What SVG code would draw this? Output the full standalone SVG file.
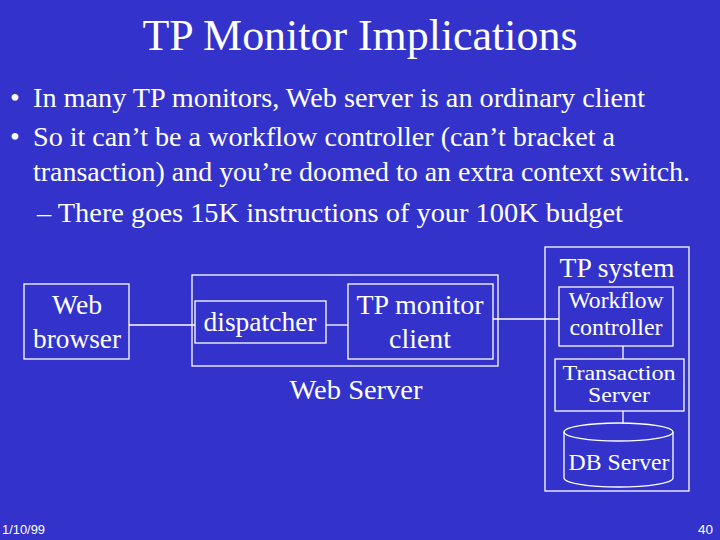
<svg xmlns="http://www.w3.org/2000/svg" width="720" height="540" viewBox="0 0 720 540">
<style>
text{font-family:"Liberation Serif","Times New Roman",serif;fill:#fff}
.box{fill:none;stroke:#fff;stroke-width:1.3}
.ln{stroke:#fff;stroke-width:1.3;fill:none}
.t24{font-size:28px;text-anchor:middle}
.t20{font-size:23px;text-anchor:middle}
.t19{font-size:21px;text-anchor:middle}
.b{font-size:28px}
.f{font-family:"Liberation Sans",sans-serif;font-size:13px}
</style>
<rect width="720" height="540" fill="#3333CC"/>
<text x="360" y="50" font-size="44" text-anchor="middle" textLength="435" lengthAdjust="spacingAndGlyphs">TP Monitor Implications</text>
<text class="b" x="10" y="107">•</text>
<text class="b" x="33" y="107" textLength="612" lengthAdjust="spacingAndGlyphs">In many TP monitors, Web server is an ordinary client</text>
<text class="b" x="10" y="146">•</text>
<text class="b" x="33" y="146" textLength="582" lengthAdjust="spacingAndGlyphs">So it can’t be a workflow controller (can’t bracket a</text>
<text class="b" x="33" y="181" textLength="657" lengthAdjust="spacingAndGlyphs">transaction) and you’re doomed to an extra context switch.</text>
<text class="b" x="37" y="222" textLength="586" lengthAdjust="spacingAndGlyphs">– There goes 15K instructions of your 100K budget</text>
<g id="connectors">
<line class="ln" x1="129" y1="325" x2="195" y2="325"/>
<line class="ln" x1="326" y1="325" x2="348" y2="325"/>
<line class="ln" x1="493" y1="319" x2="559" y2="319"/>
<line class="ln" x1="623" y1="346" x2="623" y2="359"/>
<line class="ln" x1="623" y1="411" x2="623" y2="423"/>
</g>
<g id="web-browser">
<rect class="box" x="24" y="284" width="105" height="75"/>
<text class="t24" x="77" y="314" textLength="50" lengthAdjust="spacingAndGlyphs">Web</text>
<text class="t24" x="77" y="348" textLength="88" lengthAdjust="spacingAndGlyphs">browser</text>
</g>
<g id="web-server">
<rect class="box" x="192" y="275" width="306" height="91"/>
<text class="t24" x="356" y="399" textLength="133" lengthAdjust="spacingAndGlyphs">Web Server</text>
</g>
<g id="dispatcher">
<rect class="box" x="195" y="301" width="131" height="42"/>
<text class="t24" x="260" y="331" textLength="113" lengthAdjust="spacingAndGlyphs">dispatcher</text>
</g>
<g id="tp-monitor-client">
<rect class="box" x="348" y="284" width="145" height="75"/>
<text class="t24" x="420" y="314" textLength="127" lengthAdjust="spacingAndGlyphs">TP monitor</text>
<text class="t24" x="420" y="348" textLength="62" lengthAdjust="spacingAndGlyphs">client</text>
</g>
<g id="tp-system">
<rect class="box" x="545" y="247" width="144" height="244"/>
<text class="t24" x="617" y="277" textLength="115" lengthAdjust="spacingAndGlyphs">TP system</text>
</g>
<g id="workflow-controller">
<rect class="box" x="559" y="287" width="114" height="59"/>
<text class="t20" x="616" y="308" textLength="95" lengthAdjust="spacingAndGlyphs">Workflow</text>
<text class="t20" x="616" y="335" textLength="93" lengthAdjust="spacingAndGlyphs">controller</text>
</g>
<g id="transaction-server">
<rect class="box" x="555" y="359" width="129" height="52"/>
<text class="t19" x="619" y="380" textLength="113" lengthAdjust="spacingAndGlyphs">Transaction</text>
<text class="t19" x="619" y="402" textLength="62" lengthAdjust="spacingAndGlyphs">Server</text>
</g>
<g id="db-server">
<path class="box" d="M564,432 A54.5,9 0 0 1 673,432 L673,478 A54.5,9 0 0 1 564,478 Z"/>
<path class="box" d="M564,432 A54.5,9 0 0 0 673,432"/>
<text class="t20" x="619" y="470" textLength="101" lengthAdjust="spacingAndGlyphs">DB Server</text>
</g>
<text class="f" x="2" y="534" textLength="43" lengthAdjust="spacingAndGlyphs">1/10/99</text>
<text class="f" x="713" y="534" text-anchor="end" textLength="15" lengthAdjust="spacingAndGlyphs">40</text>
</svg>
